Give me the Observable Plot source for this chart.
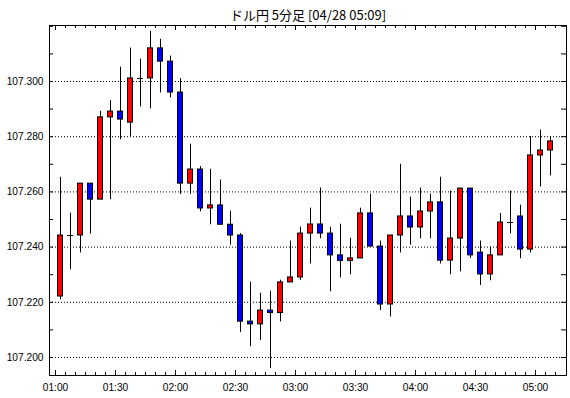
<!DOCTYPE html>
<html>
<head>
<meta charset="utf-8">
<script src="https://cdn.jsdelivr.net/npm/d3@7"></script>
<script src="https://cdn.jsdelivr.net/npm/@observablehq/plot@0.6"></script>
<style>
  body { margin: 0; background: #fff; }
</style>
</head>
<body>
<div id="chart"></div>
<script>
const title = "ドル円 5分足 [04/28 05:09]";
const times = ["01:00","01:05","01:10","01:15","01:20","01:25","01:30","01:35","01:40","01:45",
  "01:50","01:55","02:00","02:05","02:10","02:15","02:20","02:25","02:30","02:35",
  "02:40","02:45","02:50","02:55","03:00","03:05","03:10","03:15","03:20","03:25",
  "03:30","03:35","03:40","03:45","03:50","03:55","04:00","04:05","04:10","04:15",
  "04:20","04:25","04:30","04:35","04:40","04:45","04:50","04:55","05:00","05:05"];
const opens = [107.2221,107.2442,107.2442,107.2630,107.2572,107.2870,107.2891,107.2851,107.3011,107.3011,
  107.3120,107.3072,107.2960,107.2630,107.2681,107.2540,107.2551,107.2481,107.2442,107.2130,
  107.2120,107.2170,107.2161,107.2272,107.2290,107.2449,107.2482,107.2449,107.2370,107.2350,
  107.2359,107.2522,107.2402,107.2192,107.2442,107.2511,107.2471,107.2529,107.2562,107.2351,
  107.2431,107.2612,107.2380,107.2301,107.2370,107.2489,107.2511,107.2391,107.2732,107.2750];
const highs = [107.2653,107.2523,107.2630,107.2630,107.2892,107.2931,107.3052,107.3121,107.3081,107.3182,
  107.3153,107.3092,107.3011,107.2773,107.2692,107.2682,107.2643,107.2530,107.2449,107.2273,
  107.2233,107.2240,107.2280,107.2422,107.2472,107.2541,107.2614,107.2472,107.2483,107.2432,
  107.2541,107.2592,107.2422,107.2442,107.2700,107.2581,107.2614,107.2592,107.2653,107.2603,
  107.2612,107.2612,107.2422,107.2401,107.2522,107.2603,107.2552,107.2801,107.2824,107.2801];
const lows = [107.2209,107.2318,107.2379,107.2447,107.2572,107.2572,107.2789,107.2801,107.2908,107.2901,
  107.2959,107.2941,107.2591,107.2591,107.2528,107.2481,107.2481,107.2407,107.2091,107.2039,
  107.2062,107.1960,107.2129,107.2272,107.2280,107.2339,107.2430,107.2238,107.2289,107.2300,
  107.2359,107.2402,107.2170,107.2147,107.2379,107.2407,107.2430,107.2430,107.2339,107.2300,
  107.2310,107.2359,107.2261,107.2278,107.2370,107.2448,107.2358,107.2379,107.2618,107.2658];
const closes = [107.2442,107.2442,107.2630,107.2572,107.2870,107.2891,107.2862,107.3011,107.3011,107.3120,
  107.3072,107.2960,107.2630,107.2681,107.2540,107.2551,107.2481,107.2442,107.2130,107.2120,
  107.2170,107.2161,107.2272,107.2290,107.2449,107.2482,107.2449,107.2370,107.2350,107.2359,
  107.2522,107.2402,107.2192,107.2442,107.2511,107.2471,107.2529,107.2562,107.2351,107.2431,
  107.2612,107.2370,107.2301,107.2370,107.2489,107.2489,107.2391,107.2732,107.2750,107.2783];
const yLabels = [107.200, 107.220, 107.240, 107.260, 107.280, 107.300];
const xLabels = ["01:00","01:30","02:00","02:30","03:00","03:30","04:00","04:30","05:00"];

const toMin = s => +s.slice(0, 2) * 60 + +s.slice(3);
const fmt = m => String(Math.floor(m / 60)).padStart(2, "0") + ":" + String(m % 60).padStart(2, "0");
const data = times.map((t, i) => ({t: toMin(t), open: opens[i], high: highs[i], low: lows[i], close: closes[i]}));
const ups = data.filter(d => d.close > d.open);
const downs = data.filter(d => d.close < d.open);
const dojis = data.filter(d => d.close === d.open);

const W = 570, H = 398, mL = 49, mR = 4, mT = 25, mB = 23;
const innerW = W - mL - mR, innerH = H - mT - mB;
const majorX = xLabels.map(toMin);
const minorX = d3.range(60, 315, 5);
const minorY = d3.range(0, 13).map(i => +(107.2 + i * 0.01).toFixed(3));

const bodyOpts = {x1: "t", x2: d => d.t + 5, y1: "open", y2: "close", insetLeft: 2.5, insetRight: 2.5, stroke: "#000", strokeWidth: 1};

const chart = Plot.plot({
  width: W, height: H,
  marginLeft: mL, marginRight: mR, marginTop: mT, marginBottom: mB,
  style: {fontFamily: "'Liberation Sans', Arial, sans-serif", fontSize: "10.2px", background: "#fff", color: "#000"},
  x: {domain: [57, 315.5], label: null},
  y: {domain: [107.19348, 107.32029], label: null},
  marks: [
    Plot.ruleY(yLabels, {stroke: "#000", strokeDasharray: "1,2"}),
    Plot.ruleX(minorX, {stroke: "#000", insetTop: innerH - 3}),
    Plot.ruleX(majorX, {stroke: "#000", insetTop: innerH - 5}),
    Plot.ruleX(minorX, {stroke: "#000", insetBottom: innerH - 3}),
    Plot.ruleX(majorX, {stroke: "#000", insetBottom: innerH - 5}),
    Plot.ruleY(minorY, {stroke: "#000", insetRight: innerW - 4}),
    Plot.ruleY(minorY, {stroke: "#000", insetLeft: innerW - 5}),
    Plot.ruleX(data, {x: d => d.t + 2.5, y1: "low", y2: "high", stroke: "#000"}),
    Plot.rect(ups, {...bodyOpts, fill: "#ff0000"}),
    Plot.rect(downs, {...bodyOpts, fill: "#0000ff"}),
    Plot.ruleY(dojis, {y: "open", x1: "t", x2: d => d.t + 5, insetLeft: 2, insetRight: 2, stroke: "#000"}),
    Plot.frame({stroke: "#000"}),
    Plot.axisY({ticks: yLabels, tickSize: 0, tickPadding: 6, tickFormat: d => d.toFixed(3)}),
    Plot.axisX({ticks: majorX, tickSize: 0, tickPadding: 8, tickFormat: fmt}),
    Plot.text([title], {text: d => d, frameAnchor: "top", dy: -10, fontSize: 13, fontFamily: "'Noto Sans CJK JP', sans-serif", lineAnchor: "middle", fill: "#000"})
  ]
});
document.getElementById("chart").appendChild(chart);
</script>
</body>
</html>
